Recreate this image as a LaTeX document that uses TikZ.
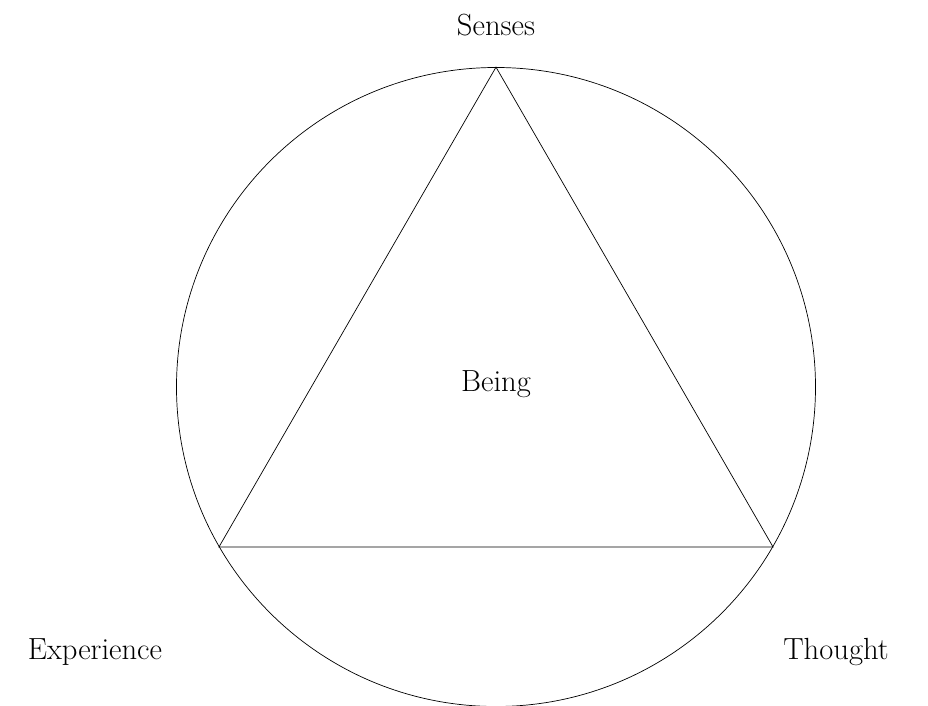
\documentclass[tikz,border=0pt]{standalone}
\usepackage{tikz}
\usetikzlibrary{positioning, calc}

\tikzset{
    labeltext/.style={font=\fontsize{17.4}{20}\selectfont, inner sep=0pt}
}

\begin{document}
\begin{tikzpicture}
    % Fixed frame
    \useasboundingbox (-9.92,-6.38) rectangle (8.64,7.74);

    % Outer circle
    \node[circle, draw, minimum size=12.78cm, inner sep=0pt] (ring) at (0,0) {};

    % Triangle corners on the circle
    \coordinate (top) at (ring.90);
    \coordinate (left) at (ring.210);
    \coordinate (right) at (ring.330);
    \draw (top) -- (left) -- (right) -- cycle;

    % Labels
    \node[labeltext] (senses) at (0,7.24) {Senses};
    \node[labeltext] (being) at (0,0.06) {Being};
    \node[labeltext] (experience) at (-8.02,-5.3) {Experience};
    \node[labeltext] (thought) at (6.8,-5.3) {Thought};
\end{tikzpicture}
\end{document}
